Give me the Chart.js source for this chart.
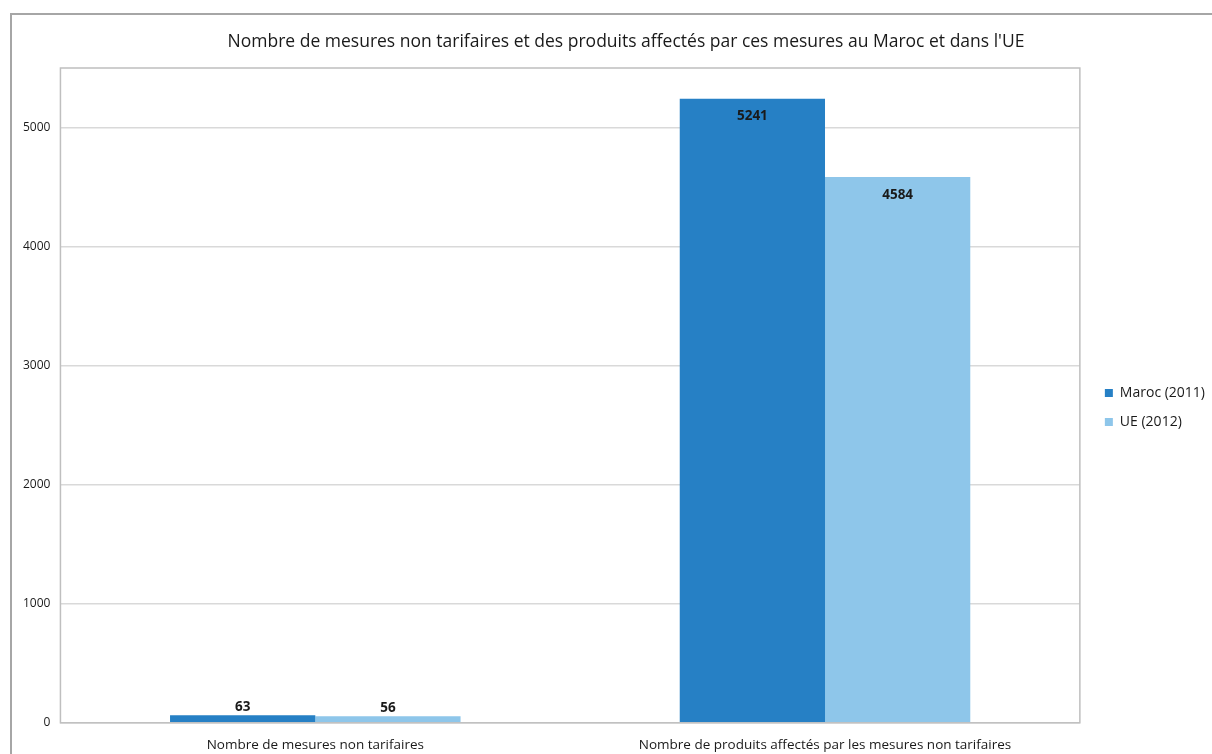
<!DOCTYPE html>
<html>
<head>
<meta charset="utf-8">
<script src="https://cdn.jsdelivr.net/npm/chart.js@4"></script>
<style>
  html, body { margin: 0; padding: 0; background: #fff; overflow: hidden; }
  #frame {
    position: absolute; left: 10px; top: 13px;
    width: 1240px; height: 760px;
    border-top: 2px solid #a6a6a6; border-left: 2px solid #a6a6a6;
  }
  #wrap { position: absolute; left: 0; top: 0; width: 1228px; height: 744px; }
</style>
</head>
<body>
<div id="frame"><div id="wrap"><canvas id="ntmChart"></canvas></div></div>
<script>
// ── Chart data ──
const chartTitle = "Nombre de mesures non tarifaires et des produits affectés par ces mesures au Maroc et dans l'UE";
const categories = ['Nombre de mesures non tarifaires', 'Nombre de produits affectés par les mesures non tarifaires'];
const marocValues = [63, 5241];
const ueValues = [56, 4584];
const seriesNames = ['Maroc (2011)', 'UE (2012)'];
const yTicks = [0, 1000, 2000, 3000, 4000, 5000];

const FONT = "'Open Sans', 'Noto Sans', sans-serif";

// title centred on the whole picture (not the padded area)
const titlePlugin = {
    id: 'topTitle',
    afterDraw(chart) {
        const c = chart.ctx;
        c.save();
        c.font = '17.5px ' + FONT;
        c.fillStyle = '#1a1a1a';
        c.textAlign = 'center';
        c.textBaseline = 'middle';
        c.fillText(chartTitle, chart.width / 2, 27);
        c.restore();
    }
};

// nudge the legend a bit away from the plot, like the original
const legendNudge = {
    id: 'legendNudge',
    afterLayout(chart) {
        const lg = chart.legend;
        if (!lg) return;
        lg.left += 10; lg.right += 10;
        lg.top -= 6; lg.bottom -= 6;
    }
};

// plot-area frame
const boxPlugin = {
    id: 'plotBox',
    afterDraw(chart) {
        const a = chart.chartArea, c = chart.ctx;
        c.save();
        c.strokeStyle = '#bfbfbf';
        c.lineWidth = 1.5;
        c.strokeRect(a.left, a.top, a.right - a.left, a.bottom - a.top);
        c.restore();
    }
};

// value labels on bars
const valuePlugin = {
    id: 'values',
    afterDatasetsDraw(chart) {
        const c = chart.ctx;
        c.save();
        c.font = 'bold 13.5px ' + FONT;
        c.fillStyle = '#1a1a1a';
        c.textAlign = 'center';
        chart.data.datasets.forEach((ds, i) => {
            chart.getDatasetMeta(i).data.forEach((bar, j) => {
                const h = bar.base - bar.y;
                if (h > 40) {
                    c.textBaseline = 'top';
                    c.fillText(ds.data[j], bar.x, bar.y + 11);
                } else {
                    c.textBaseline = 'bottom';
                    c.fillText(ds.data[j], bar.x, bar.y - 1);
                }
            });
        });
        c.restore();
    }
};

const ctx = document.getElementById('ntmChart').getContext('2d');
new Chart(ctx, {
    type: 'bar',
    data: {
        labels: categories,
        datasets: [
            { label: seriesNames[0], data: marocValues, backgroundColor: '#2680c5' },
            { label: seriesNames[1], data: ueValues, backgroundColor: '#8ec6ea' }
        ]
    },
    options: {
        responsive: true,
        maintainAspectRatio: false,
        animation: false,
        categoryPercentage: 0.57,
        barPercentage: 1,
        layout: { padding: { left: 1, right: 35, top: 53, bottom: 0 } },
        plugins: {
            title: { display: false },
            legend: {
                position: 'right',
                labels: {
                    color: '#1a1a1a',
                    font: { family: FONT, size: 14 },
                    boxWidth: 8,
                    boxHeight: 8,
                    padding: 15
                }
            },
            tooltip: { enabled: false }
        },
        scales: {
            x: {
                grid: { display: false },
                border: { display: false },
                ticks: { color: '#1a1a1a', font: { family: FONT, size: 13.5 }, padding: 6 }
            },
            y: {
                min: 0,
                max: 5500,
                afterBuildTicks: axis => { axis.ticks = yTicks.map(v => ({ value: v })); },
                grid: { color: '#d9d9d9', lineWidth: 1.5, drawTicks: false },
                border: { display: false },
                ticks: {
                    color: '#1a1a1a',
                    font: { family: FONT, size: 12 },
                    padding: 10,
                    callback: v => String(v)
                }
            }
        }
    },
    plugins: [titlePlugin, legendNudge, boxPlugin, valuePlugin]
});
</script>
</body>
</html>
